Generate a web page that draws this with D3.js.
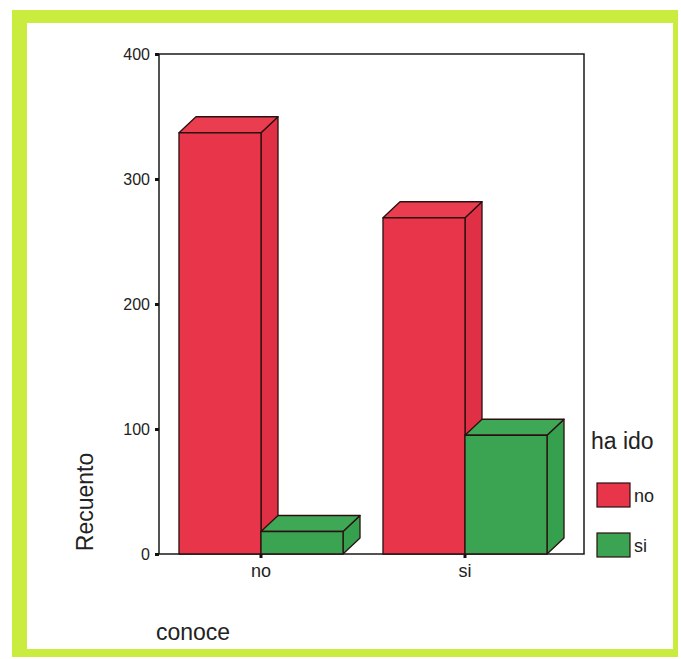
<!DOCTYPE html>
<html>
<head>
<meta charset="utf-8">
<script src="https://cdn.jsdelivr.net/npm/d3@7"></script>
<style>
  html, body { margin: 0; padding: 0; background: #ffffff; }
  svg { display: block; font-family: "Liberation Sans", Arial, sans-serif; }
</style>
</head>
<body>
<svg id="chart" width="681" height="659"></svg>
<script>
// Recuento by "conoce", split by "ha ido"
const categories = ["no", "si"];
const seriesNames = ["no", "si"];
const countsNo = [337, 269];   // ha ido = no
const countsSi = [18, 95];     // ha ido = si
const yTicks = [0, 100, 200, 300, 400];

const colors = { no: "#e8354a", si: "#3aa452" };
const sideColors = { no: "#e03045", si: "#35a04d" };
const topColors = { no: "#ea3d50", si: "#3fa857" };

const svg = d3.select("#chart");

// yellow-green frame
svg.append("rect").attr("x", 12).attr("y", 10).attr("width", 666).attr("height", 647)
  .attr("fill", "#c9ec3e");
svg.append("rect").attr("x", 27).attr("y", 23).attr("width", 646).attr("height", 626)
  .attr("fill", "#ffffff");

const plotLeft = 159, plotRight = 584, plotTop = 54, plotBottom = 554;
const depthX = 17, depthY = 16;

const y = d3.scaleLinear().domain([0, 400]).range([plotBottom, plotTop]);
const x0 = d3.scaleBand().domain(categories).range([plotLeft, plotRight - depthX])
  .paddingInner(0.196).paddingOuter(0.098);
const x1 = d3.scaleBand().domain(seriesNames).range([0, x0.bandwidth()]);

// plot frame
svg.append("rect").attr("x", plotLeft).attr("y", plotTop)
  .attr("width", plotRight - plotLeft).attr("height", plotBottom - plotTop)
  .attr("fill", "none").attr("stroke", "#1a1a1a").attr("stroke-width", 1.5);

// y axis ticks and labels
const yAxis = d3.axisLeft(y).tickValues(yTicks).tickSize(4).tickPadding(5);
const gy = svg.append("g").attr("transform", `translate(${plotLeft},0)`).call(yAxis);
gy.select(".domain").remove();
gy.selectAll(".tick line").attr("stroke", "#111").attr("stroke-width", 3);
gy.selectAll(".tick text").attr("font-size", 16).attr("fill", "#222")
  .attr("font-family", "Liberation Sans, Arial, sans-serif");

// x axis ticks and labels
const xAxis = d3.axisBottom(x0).tickSize(4).tickPadding(6);
const gx = svg.append("g").attr("transform", `translate(0,${plotBottom})`).call(xAxis);
gx.select(".domain").remove();
gx.selectAll(".tick line").attr("stroke", "#111").attr("stroke-width", 3);
gx.selectAll(".tick text").attr("font-size", 18).attr("fill", "#222")
  .attr("font-family", "Liberation Sans, Arial, sans-serif");

// 3D bars
const rows = categories.map((c, i) => ({ cat: c, values: [
  { key: "no", value: countsNo[i] },
  { key: "si", value: countsSi[i] }
]}));

const groups = svg.append("g").selectAll("g").data(rows).join("g")
  .attr("transform", d => `translate(${x0(d.cat)},0)`);

groups.each(function (row) {
  const g = d3.select(this);
  row.values.forEach(v => {
    const xa = x1(v.key), xb = xa + x1.bandwidth();
    const yt = y(v.value), yb = y(0);
    const side = g.append("path")
      .attr("d", `M${xb},${yt} L${xb + depthX},${yt - depthY} L${xb + depthX},${yb - depthY} L${xb},${yb} Z`)
      .attr("fill", sideColors[v.key]);
    const topFace = g.append("path")
      .attr("d", `M${xa},${yt} L${xa + depthX},${yt - depthY} L${xb + depthX},${yt - depthY} L${xb},${yt} Z`)
      .attr("fill", topColors[v.key]);
    const front = g.append("rect")
      .attr("x", xa).attr("y", yt).attr("width", xb - xa).attr("height", yb - yt)
      .attr("fill", colors[v.key]);
    [side, topFace, front].forEach(s => s
      .attr("stroke", "#2a1010").attr("stroke-width", 1.3).attr("stroke-linejoin", "round"));
  });
});

// axis titles
svg.append("text")
  .attr("transform", `translate(93,502) rotate(-90)`)
  .attr("text-anchor", "middle")
  .attr("font-size", 23).attr("fill", "#222")
  .text("Recuento");

svg.append("text")
  .attr("x", 156).attr("y", 640)
  .attr("font-size", 23).attr("fill", "#222")
  .text("conoce");

// legend
svg.append("text")
  .attr("x", 591).attr("y", 449)
  .attr("font-size", 23).attr("fill", "#222")
  .text("ha ido");

const legend = svg.append("g").selectAll("g").data(seriesNames).join("g")
  .attr("transform", (d, i) => `translate(597,${483 + i * 50})`);
legend.append("rect").attr("width", 33).attr("height", 24)
  .attr("fill", d => colors[d]).attr("stroke", "#2a1010").attr("stroke-width", 1.2);
legend.append("text").attr("x", 37).attr("y", 19)
  .attr("font-size", 18).attr("fill", "#222")
  .text(d => d);
</script>
</body>
</html>
